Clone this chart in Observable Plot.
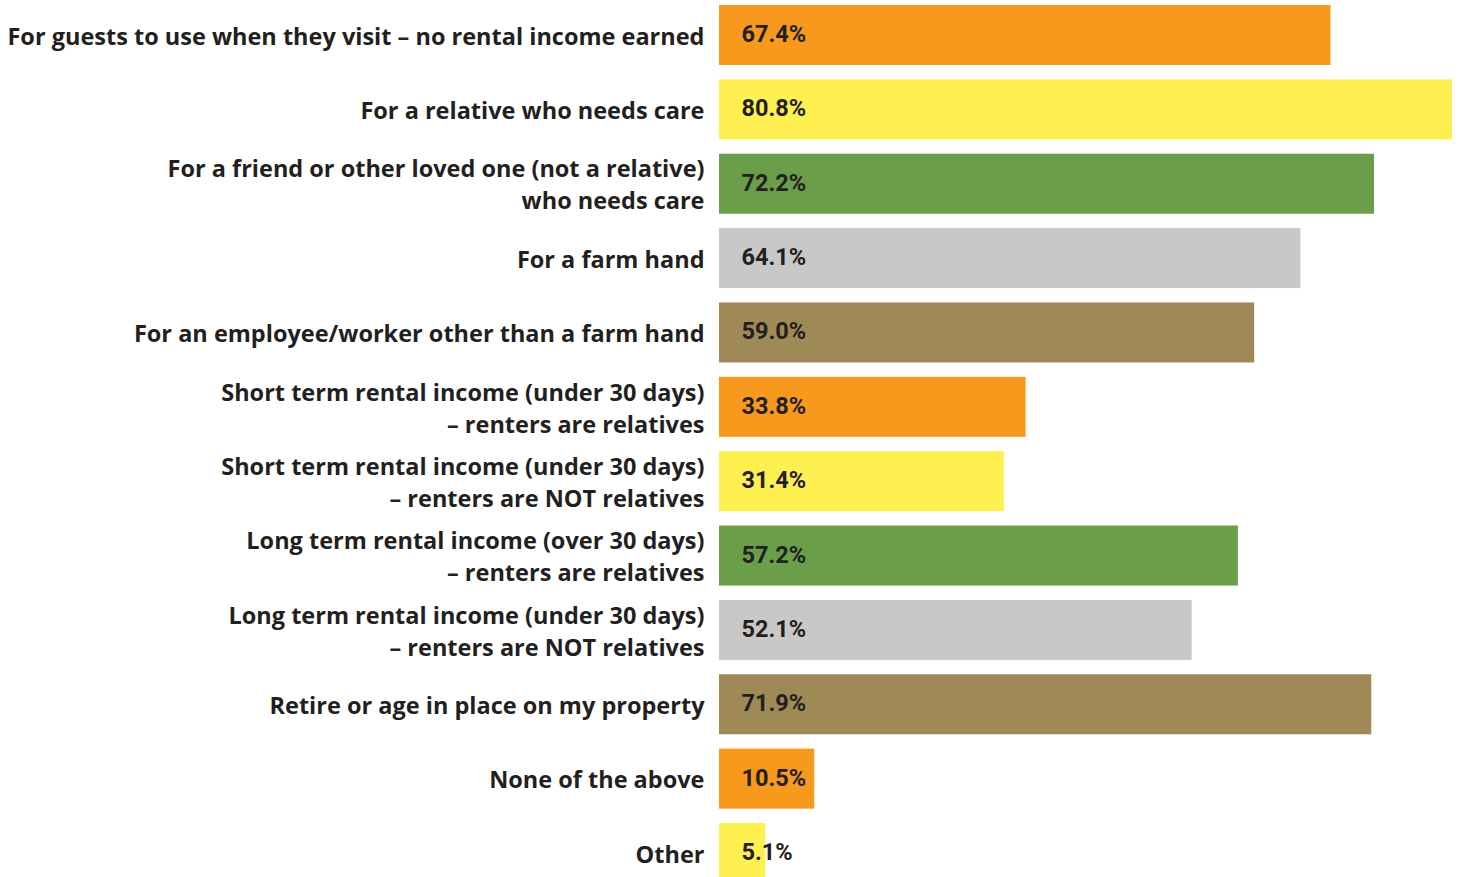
<!DOCTYPE html>
<html>
<head>
<meta charset="utf-8">
<script src="https://cdn.jsdelivr.net/npm/d3@7"></script>
<script src="https://cdn.jsdelivr.net/npm/@observablehq/plot@0.6"></script>
<style>
  html, body { margin: 0; padding: 0; background: #fff; overflow: hidden; }
  svg { overflow: visible; }
</style>
</head>
<body>
<div id="chart"></div>
<script>
const categories = [
  "For guests to use when they visit – no rental income earned",
  "For a relative who needs care",
  "For a friend or other loved one (not a relative)\nwho needs care",
  "For a farm hand",
  "For an employee/worker other than a farm hand",
  "Short term rental income (under 30 days)\n– renters are relatives",
  "Short term rental income (under 30 days)\n– renters are NOT relatives",
  "Long term rental income (over 30 days)\n– renters are relatives",
  "Long term rental income (under 30 days)\n– renters are NOT relatives",
  "Retire or age in place on my property",
  "None of the above",
  "Other"
];
const values = [67.4, 80.8, 72.2, 64.1, 59.0, 33.8, 31.4, 57.2, 52.1, 71.9, 10.5, 5.1];
const palette = ["#F7991D", "#FFF051", "#6A9E48", "#C8C8C9", "#9F8A57"];

const data = categories.map((c, i) => ({
  category: c,
  value: values[i],
  color: palette[i % palette.length],
  label: values[i].toFixed(1) + "%"
}));

const chart = Plot.plot({
  width: 1458,
  height: 877,
  marginTop: 0, marginBottom: 0, marginLeft: 0, marginRight: 0,
  x: { domain: [0, 80.8], range: [719, 1452], axis: null },
  y: { domain: categories, range: [5, 883], paddingInner: 0.193, paddingOuter: 0, round: false, axis: null },
  marks: [
    Plot.barX(data, { x: "value", y: "category", fill: "color" }),
    Plot.text(data, {
      x: 0, y: "category", text: "category", textAnchor: "end", dx: -15, dy: -1,
      fontFamily: "'Open Sans', sans-serif", fontWeight: 700, fontSize: 23.5,
      lineHeight: 1.36, fill: "#231F20"
    }),
    Plot.text(data, {
      x: 0, y: "category", text: "label", textAnchor: "start", dx: 22, dy: -1,
      fontFamily: "Roboto, sans-serif",
      fontWeight: 700, fontSize: 23.5, fill: "#231F20", letterSpacing: "-0.3px"
    })
  ]
});
document.getElementById("chart").appendChild(chart);
</script>
</body>
</html>
